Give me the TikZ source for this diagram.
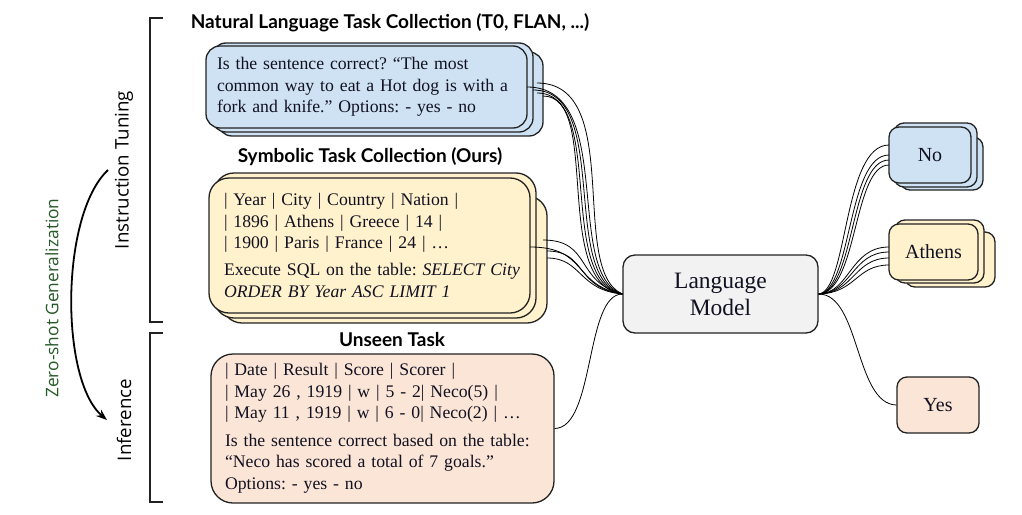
\documentclass[tikz,border=0pt]{standalone}
\usepackage{fontspec}
\setmainfont{Liberation Serif}
\newfontfamily\headfont{Lato}
\newfontfamily\labelfont{Open Sans}
\usetikzlibrary{arrows.meta}
\definecolor{bluefill}{HTML}{CFE2F3}
\definecolor{yellowfill}{HTML}{FFF2CC}
\definecolor{peachfill}{HTML}{FBE5D6}
\definecolor{greyfill}{HTML}{F2F2F2}
\definecolor{edgecol}{HTML}{222222}
\definecolor{textcol}{HTML}{111122}
\definecolor{greencol}{HTML}{265A28}
\begin{document}
\frenchspacing
\begin{tikzpicture}[x=1pt,y=-1pt,
  card/.style={draw=edgecol, line width=1.3pt, align=left, text=textcol,
    font=\fontsize{17.7}{21.5}\selectfont, inner ysep=0pt},
  backcard/.style={draw=edgecol, line width=1.3pt},
  answer/.style={draw=edgecol, line width=1.3pt, rounded corners=10pt, text=textcol,
    font=\fontsize{20}{24}\selectfont, inner sep=0pt},
  heading/.style={font=\headfont\bfseries\fontsize{19}{22}\selectfont, text=black},
  sidelabel/.style={font=\labelfont\fontsize{18.7}{22}\selectfont, rotate=90, text=black},
  wire/.style={draw=black, line width=0.8pt},
  bracketline/.style={draw=edgecol, line width=1.8pt}
]
\useasboundingbox (0,0) rectangle (1022,514);

% ---- brackets and side labels
\draw[bracketline] (163,18) -- (150,18) -- (150,322) -- (163,322);
\draw[bracketline] (163,333) -- (150,333) -- (150,502) -- (163,502);
\node[sidelabel] (lit) at (124,170) {Instruction Tuning};
\node[sidelabel] (linf) at (124,420) {Inference};
\node[sidelabel, text=greencol, font=\labelfont\fontsize{17.3}{20}\selectfont] (lzs) at (52,298) {Zero-shot Generalization};
\coordinate (arrA) at (108,170);
\coordinate (arrB) at (107,420);
\draw[line width=1.8pt, -{Stealth[length=11pt,width=8pt]}] (arrA) .. controls (60,215) and (60,380) .. (arrB);

% ---- headings
\node[heading] (h1) at (390,23) {Natural Language Task Collection (T0, FLAN, ...)};
\node[heading] (h2) at (370,157) {Symbolic Task Collection (Ours)};
\node[heading] (h3) at (392,340) {Unseen Task};

% ---- natural language stack
\draw[backcard, fill=bluefill, rounded corners=14pt] (218,52) rectangle (543,136);
\draw[backcard, fill=bluefill, rounded corners=14pt] (212,43) rectangle (533,132);
\node[card, fill=bluefill, rounded corners=14pt, text width=299pt, inner xsep=11pt,
  minimum height=82pt] (nl) at (366.5,87)
  {\mbox{Is the sentence correct? “The most}\\
   \mbox{common way to eat a Hot dog is with a}\\
   \mbox{fork and knife.” Options: - yes - no}};

% ---- symbolic stack
\draw[backcard, fill=yellowfill, rounded corners=20pt] (222,196) rectangle (547,323);
\draw[backcard, fill=yellowfill, rounded corners=20pt] (214,173) rectangle (536,318);
\node[card, fill=yellowfill, rounded corners=20pt, text width=291pt, inner xsep=15pt,
  minimum height=135pt] (sym) at (369.5,245.5)
  {\mbox{| Year | City | Country | Nation |}\\
   \mbox{| 1896 | Athens | Greece | 14 |}\\
   \mbox{| 1900 | Paris | France | 24 | …}\\[5.5pt]
   \mbox{Execute SQL on the table: \textit{SELECT City}}\\
   \mbox{\textit{ORDER BY Year ASC LIMIT 1}}};

% ---- unseen task
\node[card, fill=peachfill, rounded corners=22pt, text width=315pt, inner xsep=14pt,
  minimum height=149pt] (uns) at (382.5,428.5)
  {\mbox{| Date | Result | Score | Scorer |}\\
   \mbox{| May 26 , 1919 | w | 5 - 2| Neco(5) |}\\
   \mbox{| May 11 , 1919 | w | 6 - 0| Neco(2) | …}\\[6pt]
   \mbox{Is the sentence correct based on the table:}\\
   \mbox{“Neco has scored a total of 7 goals.”}\\
   \mbox{Options: - yes - no}};

% ---- language model
\node[draw=edgecol, line width=1.3pt, fill=greyfill, rounded corners=12pt,
  minimum width=195pt, minimum height=78pt, align=center, text=textcol,
  font=\fontsize{23.5}{27}\selectfont] (lm) at (720.5,294) {Language\\Model};

% ---- answers
\draw[backcard, fill=bluefill, rounded corners=10pt] (900,137) rectangle (983,190);
\draw[backcard, fill=bluefill, rounded corners=10pt] (894,123) rectangle (977,187);
\node[answer, fill=bluefill, minimum width=82pt, minimum height=56pt] (no) at (930,155) {No};

\draw[backcard, fill=yellowfill, rounded corners=10pt] (905,232) rectangle (995,287);
\draw[backcard, fill=yellowfill, rounded corners=10pt] (895,220) rectangle (984,283);
\node[answer, fill=yellowfill, minimum width=89pt, minimum height=56pt] (ath) at (933.5,252) {Athens};

\node[answer, fill=peachfill, minimum width=82pt, minimum height=56pt] (yes) at (938,405) {Yes};

% ---- wires into the language model
\coordinate (b1) at (537,83);
\coordinate (b2) at (527,87);
\coordinate (b3) at (533,90);
\coordinate (b4) at (537,93);
\coordinate (b5) at (543,96);
\draw[wire] (b1) .. controls (625,83) and (568,270) .. (lm.west);
\draw[wire] (b2) .. controls (617,87) and (563,274) .. (lm.west);
\draw[wire] (b3) .. controls (612,90) and (559,278) .. (lm.west);
\draw[wire] (b4) .. controls (607,93) and (555,281) .. (lm.west);
\draw[wire] (b5) .. controls (602,96) and (551,284) .. (lm.west);

\coordinate (y1) at (543,240);
\coordinate (y2) at (530,247);
\coordinate (y3) at (547,251);
\coordinate (y4) at (547,258);
\draw[wire] (y1) .. controls (592,240) and (575,282) .. (lm.west);
\draw[wire] (y2) .. controls (588,247) and (572,285) .. (lm.west);
\draw[wire] (y3) .. controls (587,251) and (575,288) .. (lm.west);
\draw[wire] (y4) .. controls (582,258) and (578,290) .. (lm.west);

\draw[wire] (uns.east) .. controls (595,428) and (585,294) .. (lm.west);

% ---- wires out of the language model
\coordinate (n1) at (889,145);
\coordinate (n2) at (889,155);
\coordinate (n3) at (889,160);
\coordinate (n4) at (889,165);
\draw[wire] (lm.east) .. controls (848,291) and (843,145) .. (n1);
\draw[wire] (lm.east) .. controls (852,291) and (847,155) .. (n2);
\draw[wire] (lm.east) .. controls (855,292) and (850,160) .. (n3);
\draw[wire] (lm.east) .. controls (858,292) and (853,165) .. (n4);

\coordinate (a1) at (889,247);
\coordinate (a2) at (889,252);
\coordinate (a3) at (889,258);
\coordinate (a4) at (889,265);
\draw[wire] (lm.east) .. controls (850,293) and (850,247) .. (a1);
\draw[wire] (lm.east) .. controls (852,293) and (852,252) .. (a2);
\draw[wire] (lm.east) .. controls (854,293) and (854,258) .. (a3);
\draw[wire] (lm.east) .. controls (856,293) and (856,265) .. (a4);

\draw[wire] (lm.east) .. controls (860,294) and (855,404) .. (yes.west);
\end{tikzpicture}
\end{document}
